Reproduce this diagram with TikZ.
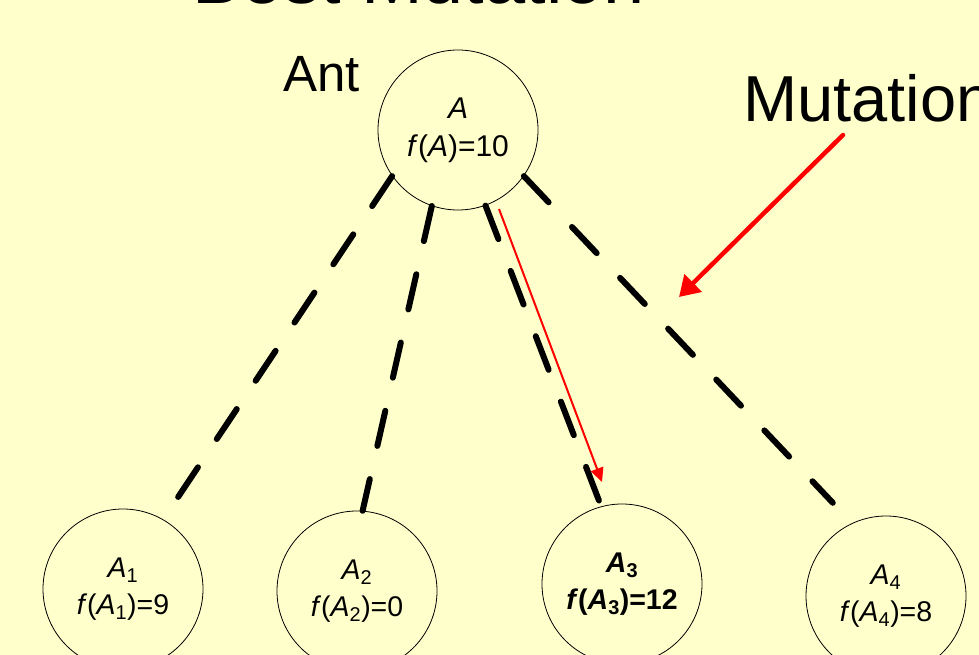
\documentclass[tikz,border=0pt]{standalone}
\usepackage{fontspec}
\setmainfont{Liberation Sans}
\usetikzlibrary{arrows.meta}
\definecolor{paleyellow}{HTML}{FFFFCC}
\definecolor{arrowred}{HTML}{FF0000}
\newcommand{\sub}[1]{\textsubscript{#1}}
\tikzset{
  solution/.style={circle, draw=black, line width=0.8pt, minimum size=160pt,
    inner sep=0pt, align=center, font=\fontsize{28.5}{37}\selectfont},
  rootsol/.style={solution, font=\fontsize{30}{38}\selectfont},
  branch/.style={draw=black, line width=6pt, line cap=round,
    dash pattern=on 36pt off 34pt},
  bigarrow/.style={draw=arrowred, line width=4.5pt,
    -{Triangle[length=20pt,width=24pt]}},
  thinarrow/.style={draw=arrowred, line width=2pt,
    -{Triangle[length=14pt,width=13pt]}},
  caption/.style={anchor=base west, inner sep=0pt, outer sep=0pt}
}
\begin{document}
\begin{tikzpicture}[x=1pt, y=-1pt]
  \useasboundingbox (0,0) rectangle (979,655);
  \fill[paleyellow] (0,0) rectangle (979,655);
  \clip (0,0) rectangle (979,655);

  % title, running off the top edge
  \node[caption, font=\fontsize{74}{80}\selectfont] (title) at (192.5,4) {Best Mutation};

  % parent solution and its four mutants
  \node[rootsol] (A) at (458,130) {\textit{A}\\\textit{f}(\textit{A})=10};
  \node[solution] (A1) at (123,589) {\textit{A}\sub{1}\\\textit{f}(\textit{A}\sub{1})=9};
  \node[solution] (A2) at (357,591) {\textit{A}\sub{2}\\\textit{f}(\textit{A}\sub{2})=0};
  \node[solution, font=\fontsize{28.5}{37}\selectfont\bfseries] (A3) at (622,584)
    {\textit{A}\sub{3}\\\textit{f}(\textit{A}\sub{3})=12};
  \node[solution] (A4) at (886,596) {\textit{A}\sub{4}\\\textit{f}(\textit{A}\sub{4})=8};

  \node[caption, font=\fontsize{51}{56}\selectfont] (ant) at (283,92) {Ant};
  \node[caption, font=\fontsize{65}{70}\selectfont] (mut) at (743,122) {Mutation};

  % dashed branches to the mutants
  \draw[branch, shorten >=27pt] (A.215) -- (A1.60);
  \draw[branch] (A.251) -- (A2.86);
  \draw[branch, shorten >=5pt] (A.290) -- (A3.105);
  \draw[branch, shorten >=28pt] (A.325) -- (A4.115);

  % highlighted best mutation
  \coordinate (bestfrom) at (499,209);
  \coordinate (bestto) at (602,482);
  \draw[thinarrow] (bestfrom) -- (bestto);

  % pointer from the label
  \coordinate (mutfrom) at (843,135);
  \coordinate (mutto) at (679,297);
  \draw[bigarrow, line cap=round] (mutfrom) -- (mutto);
\end{tikzpicture}
\end{document}
